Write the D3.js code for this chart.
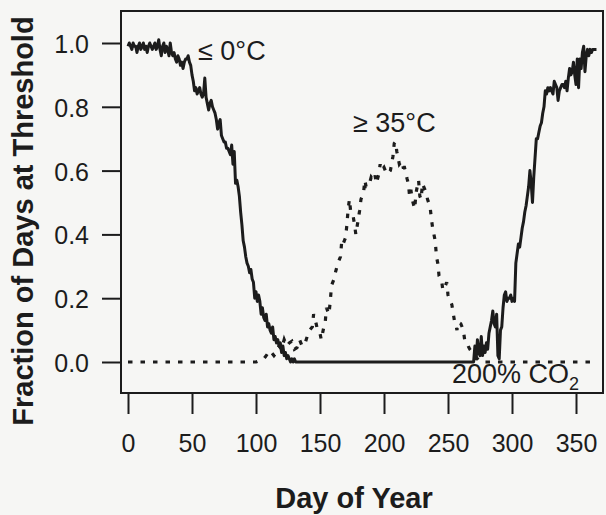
<!DOCTYPE html>
<html>
<head>
<meta charset="utf-8">
<script src="https://cdn.jsdelivr.net/npm/d3@7"></script>
<style>
  body { margin: 0; background: #f6f6f4; }
  svg { display: block; font-family: "Liberation Sans", Arial, sans-serif; }
</style>
</head>
<body>
<div class="CHART"></div>
<script>
// days / fractions, <= 0 C series (solid)
var coldDay = [0,1,2,3,4,5,6,7,8,9,10,11,12,13,14,15,16,17,18,19,20,21,22,23,24,25,26,27,28,29,
  30,31,32,33,34,35,36,37,38,39,40,41,42,43,44,45,46,47,48,49,50,51,52,53,54,55,56,57,58,59,
  60,61,62,63,64,65,66,67,68,69,70,71,72,73,74,75,76,77,78,79,80,81,82,83,84,85,86,87,88,89,
  90,91,92,93,94,95,96,97,98,99,100,101,102,103,104,105,106,107,108,109,110,111,112,113,114,
  115,116,117,118,119,120,121,122,123,124,125,126,127,128,129,130,131,132,
  270,271,272,273,274,275,276,277,278,279,280,281,282,283,284,285,286,287,288,289,290,
  291,292,293,294,295,296,297,298,299,300,301,302,303,304,305,306,307,308,309,310,
  311,312,313,314,315,316,317,318,319,320,321,322,323,324,325,326,327,328,329,330,
  331,332,333,334,335,336,337,338,339,340,341,342,343,344,345,346,347,348,349,350,
  351,352,353,354,355,356,357,358,359,360,361,362,363,364,365,366];
var coldVal = [0.99,1.0,0.99,0.98,1.0,0.99,0.99,0.97,0.99,1.0,0.98,0.99,1.0,0.98,0.99,0.97,0.99,1.0,0.99,0.98,
  0.99,1.0,0.98,0.99,1.01,0.98,0.96,0.99,1.0,0.97,0.99,0.98,0.96,1.0,0.97,0.96,0.97,0.95,0.94,0.96,
  0.95,0.93,0.94,0.92,0.94,0.95,0.95,0.96,0.94,0.93,0.90,0.88,0.85,0.86,0.84,0.85,0.86,0.84,0.83,0.84,
  0.89,0.83,0.81,0.79,0.81,0.82,0.80,0.79,0.78,0.76,0.73,0.75,0.76,0.71,0.70,0.69,0.69,0.67,0.67,0.66,
  0.65,0.68,0.62,0.66,0.56,0.57,0.55,0.52,0.47,0.43,0.38,0.36,0.33,0.31,0.30,0.28,0.29,0.26,0.25,0.20,
  0.22,0.19,0.21,0.19,0.15,0.17,0.14,0.13,0.15,0.11,0.12,0.10,0.09,0.11,0.07,0.08,0.06,0.07,0.05,0.06,
  0.03,0.05,0.02,0.03,0.01,0.02,0.01,0.00,0.01,0.00,0.01,0.00,0.00,
  0.00,0.05,0.01,0.07,0.03,0.02,0.08,0.02,0.05,0.03,0.06,0.04,0.09,0.11,0.13,0.16,0.12,0.11,0.15,0.02,0.01,
  0.10,0.11,0.17,0.21,0.22,0.19,0.20,0.20,0.21,0.19,0.20,0.19,0.31,0.34,0.37,0.36,0.39,0.42,0.44,0.47,
  0.49,0.52,0.55,0.60,0.56,0.50,0.58,0.64,0.70,0.70,0.72,0.74,0.75,0.78,0.80,0.85,0.84,0.86,0.85,0.86,
  0.85,0.84,0.88,0.87,0.86,0.82,0.85,0.86,0.87,0.87,0.86,0.88,0.85,0.89,0.92,0.90,0.91,0.94,0.90,0.87,
  0.95,0.86,0.95,0.92,0.97,0.99,0.91,0.96,0.98,0.96,0.98,0.97,0.98,0.98,0.98,0.98];

// >= 35 C series (dotted)
var heatDay = [0,100,103,106,108,110,112,114,116,118,120,122,124,126,128,130,132,134,136,138,140,142,144,145,
  147,148,150,151,153,154,155,157,158,159,161,162,164,166,167,168,170,171,172,173,174,176,177,178,
  180,181,182,184,185,186,188,190,192,193,194,196,197,198,200,202,203,205,207,208,209,210,211,212,
  214,215,216,218,219,220,221,222,224,225,227,228,229,230,231,233,234,236,237,238,239,240,241,242,
  243,245,246,248,249,250,252,253,255,256,257,258,260,262,263,265,266,267,269,270,272,274,276,366];
var heatVal = [0,0,0.005,0.01,0.02,0.015,0.03,0.02,0.03,0.05,0.04,0.07,0.05,0.06,0.065,0.04,0.045,0.07,0.05,0.055,0.08,0.10,0.11,0.15,
  0.12,0.10,0.09,0.07,0.11,0.12,0.17,0.15,0.19,0.24,0.26,0.28,0.31,0.33,0.38,0.37,0.39,0.43,0.48,0.51,0.47,0.455,0.43,0.40,
  0.45,0.476,0.51,0.53,0.57,0.55,0.55,0.58,0.57,0.585,0.56,0.59,0.62,0.60,0.61,0.59,0.59,0.60,0.645,0.685,0.69,0.66,0.64,0.62,
  0.63,0.61,0.61,0.575,0.56,0.52,0.54,0.51,0.48,0.53,0.57,0.52,0.51,0.56,0.55,0.53,0.51,0.487,0.45,0.42,0.40,0.38,0.33,0.31,
  0.27,0.255,0.225,0.24,0.25,0.21,0.19,0.18,0.13,0.12,0.10,0.125,0.12,0.10,0.07,0.06,0.048,0.04,0.03,0.025,0.015,0.005,0,0];

var xTicks = [0, 50, 100, 150, 200, 250, 300, 350];
var yTicks = [0, 0.2, 0.4, 0.6, 0.8, 1.0];

var W = 606, H = 515;
var box = {left: 121, top: 11, right: 603, bottom: 393};
var ink = "#1c1c1c";

var svg = d3.select(".CHART").append("svg")
  .attr("width", W)
  .attr("height", H);

var x = d3.scaleLinear().domain([0, 350]).range([128, 576]);
var y = d3.scaleLinear().domain([0, 1]).range([362, 43]);

// plot frame
svg.append("rect")
  .attr("x", box.left).attr("y", box.top)
  .attr("width", box.right - box.left).attr("height", box.bottom - box.top)
  .attr("fill", "none").attr("stroke", ink).attr("stroke-width", 2);

// y axis
var gy = svg.append("g")
  .attr("transform", "translate(" + box.left + ",0)")
  .call(d3.axisLeft(y).tickValues(yTicks).tickFormat(d3.format(".1f")).tickSize(19).tickPadding(13));
gy.select(".domain").remove();
gy.selectAll("line").attr("stroke", ink).attr("stroke-width", 2);
gy.selectAll("text").attr("fill", ink).style("font-size", "25px").attr("dy", "0.38em");

// x axis (ticks hang under the frame)
var gx = svg.append("g")
  .attr("transform", "translate(0," + box.bottom + ")")
  .call(d3.axisBottom(x).tickValues(xTicks).tickSize(21).tickPadding(20));
gx.select(".domain").remove();
gx.selectAll("line").attr("stroke", ink).attr("stroke-width", 2);
gx.selectAll("text").attr("fill", ink).style("font-size", "25px");

// series
var cold = coldDay.map(function(d, i) { return [d, coldVal[i]]; });
var heat = heatDay.map(function(d, i) { return [d, heatVal[i]]; });
var line = d3.line()
  .x(function(d) { return x(d[0]); })
  .y(function(d) { return y(d[1]); });

svg.append("path")
  .datum(heat)
  .attr("d", line)
  .attr("fill", "none")
  .attr("stroke", ink)
  .attr("stroke-width", 3.2)
  .attr("stroke-dasharray", "4.5,8");

svg.append("path")
  .datum(cold)
  .attr("d", line)
  .attr("fill", "none")
  .attr("stroke", ink)
  .attr("stroke-width", 3)
  .attr("stroke-linejoin", "round");

// labels
svg.append("text")
  .attr("x", 198).attr("y", 60)
  .attr("fill", ink).style("font-size", "27px")
  .text("\u2264 0\u00B0C");

svg.append("text")
  .attr("x", 353).attr("y", 132)
  .attr("fill", ink).style("font-size", "27px")
  .text("\u2265 35\u00B0C");

var co2 = svg.append("text")
  .attr("x", 452).attr("y", 383)
  .attr("fill", ink).style("font-size", "27px");
co2.append("tspan").text("200% CO");
co2.append("tspan").attr("dy", 7).style("font-size", "18px").text("2");

svg.append("text")
  .attr("x", 354).attr("y", 508)
  .attr("text-anchor", "middle")
  .attr("fill", ink)
  .style("font-size", "29px").style("font-weight", "bold")
  .text("Day of Year");

svg.append("text")
  .attr("transform", "translate(33,221) rotate(-90)")
  .attr("text-anchor", "middle")
  .attr("fill", ink)
  .style("font-size", "29px").style("font-weight", "bold")
  .text("Fraction of Days at Threshold");
</script>
</body>
</html>
